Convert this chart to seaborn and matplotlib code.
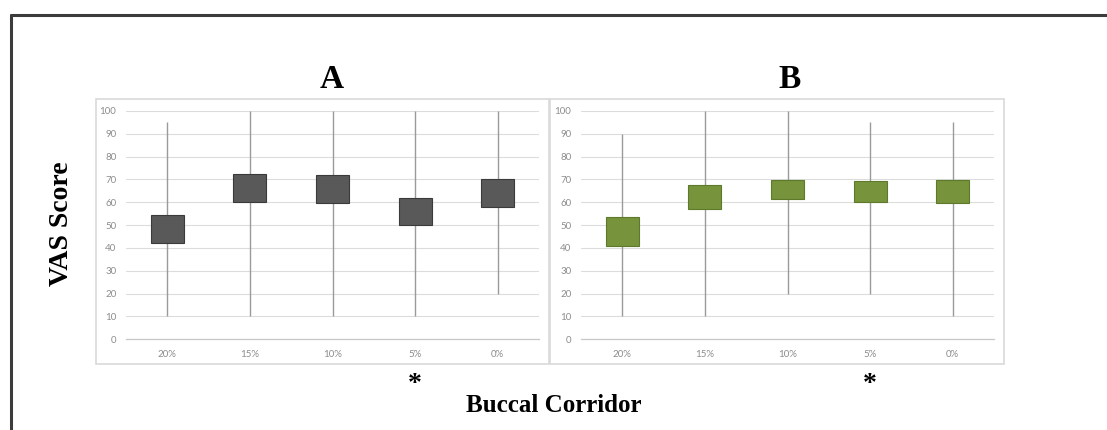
import numpy as np
import pandas as pd
import matplotlib
matplotlib.use("Agg")
import matplotlib.pyplot as plt
import seaborn as sns
from matplotlib.patches import Rectangle
from matplotlib.lines import Line2D
from matplotlib.ticker import FixedLocator

# ---------------- data ----------------
categories = ["20%", "15%", "10%", "5%", "0%"]
a_min = [10, 10, 10, 10, 20]
a_q1 = [42.0, 60.3, 59.6, 50.1, 58.1]
a_q3 = [54.3, 72.3, 71.8, 61.8, 70.1]
a_max = [95, 100, 100, 100, 100]
b_min = [10, 10, 20, 20, 10]
b_q1 = [41.0, 57.1, 61.3, 60.3, 59.6]
b_q3 = [53.4, 67.6, 69.8, 69.5, 69.6]
b_max = [90, 100, 100, 95, 95]
yticks = list(range(0, 101, 10))
panel_titles = ["A", "B"]
star_category = "5%"

# ---------------- style ----------------
sns.set_theme(style="white")
plt.rcParams["font.family"] = ["Lato", "DejaVu Sans"]

W, H = 1107, 430
fig = plt.figure(figsize=(W / 100, H / 100), dpi=100)
fig.patch.set_facecolor("white")

def fx(px):
    return px / W

def fy(py):
    return 1 - py / H

panels = [
    dict(mn=a_min, q1=a_q1, q3=a_q3, mx=a_max, color="#595959", edge="#3a3a3a",
         left=126, frame=(96, 99, 549, 364), title_x=332, ticks=False),
    dict(mn=b_min, q1=b_q1, q3=b_q3, mx=b_max, color="#77933C", edge="#5c7a2a",
         left=581, frame=(550, 99, 1004, 364), title_x=790, ticks=True),
]

serif = ["Liberation Serif", "DejaVu Serif"]

for p, title in zip(panels, panel_titles):
    # frame
    x0, y0, x1, y1 = p["frame"]
    fig.add_artist(Rectangle((fx(x0), fy(y1)), fx(x1 - x0), (y1 - y0) / H,
                             transform=fig.transFigure, fill=False,
                             ec="#d9d9d9", lw=1.2, zorder=0))
    ax = fig.add_axes([fx(p["left"]), fy(339.3), fx(413), 228.3 / H])
    ax.set_facecolor("none")
    df = pd.DataFrame({"cat": categories,
                       "iqr": np.array(p["q3"]) - np.array(p["q1"])})
    pos = np.arange(len(categories))
    ax.vlines(pos, p["mn"], p["mx"], color="#9a9a9a", lw=1.0, zorder=2)
    sns.barplot(data=df, x="cat", y="iqr", bottom=p["q1"], width=0.4,
                color=p["color"], saturation=1, edgecolor=p["edge"],
                linewidth=0.8, errorbar=None, ax=ax, zorder=3)
    ax.set_ylim(0, 100)
    ax.set_xlim(-0.5, len(categories) - 0.5)
    ax.set_yticks(yticks)
    ax.set_xlabel("")
    ax.set_ylabel("")
    ax.yaxis.grid(True, color="#dcdcdc", lw=0.8, zorder=0)
    ax.set_axisbelow(True)
    for s in ["top", "right", "left"]:
        ax.spines[s].set_visible(False)
    ax.spines["bottom"].set_color("#c8c8c8")
    ax.spines["bottom"].set_linewidth(0.9)
    ax.tick_params(axis="y", labelsize=7, labelcolor="#8c8c8c", length=0, pad=7)
    ax.tick_params(axis="x", labelsize=7, labelcolor="#8c8c8c", length=0, pad=8)
    if p["ticks"]:
        ax.xaxis.set_minor_locator(FixedLocator(np.arange(-0.5, len(categories), 1.0)))
        ax.tick_params(axis="x", which="minor", length=4, color="#d0d0d0", width=0.8)
    # title
    fig.text(fx(p["title_x"]), fy(80), title, ha="center", va="center",
             fontsize=24, fontweight="bold", family=serif, color="black")
    # asterisk below the 5% category
    si = categories.index(star_category)
    ax.text(si, -0.2, "*", transform=ax.get_xaxis_transform(), ha="center",
            va="center", fontsize=20, fontweight="bold", family=serif, color="black")

fig.text(fx(62), fy(224), "VAS Score", rotation=90, ha="center", va="center",
         fontsize=20, fontweight="bold", family=serif, color="black")
fig.text(fx(554), fy(405), "Buccal Corridor", ha="center", va="center",
         fontsize=18, fontweight="bold", family=serif, color="black")

# outer border (left and top)
fig.add_artist(Line2D([fx(11), fx(11)], [0, fy(15)], transform=fig.transFigure,
                      color="#3c3c3c", lw=2.2))
fig.add_artist(Line2D([fx(11), 1], [fy(15), fy(15)], transform=fig.transFigure,
                      color="#3c3c3c", lw=2.2))

fig.savefig("out.png", dpi=100, facecolor="white")
